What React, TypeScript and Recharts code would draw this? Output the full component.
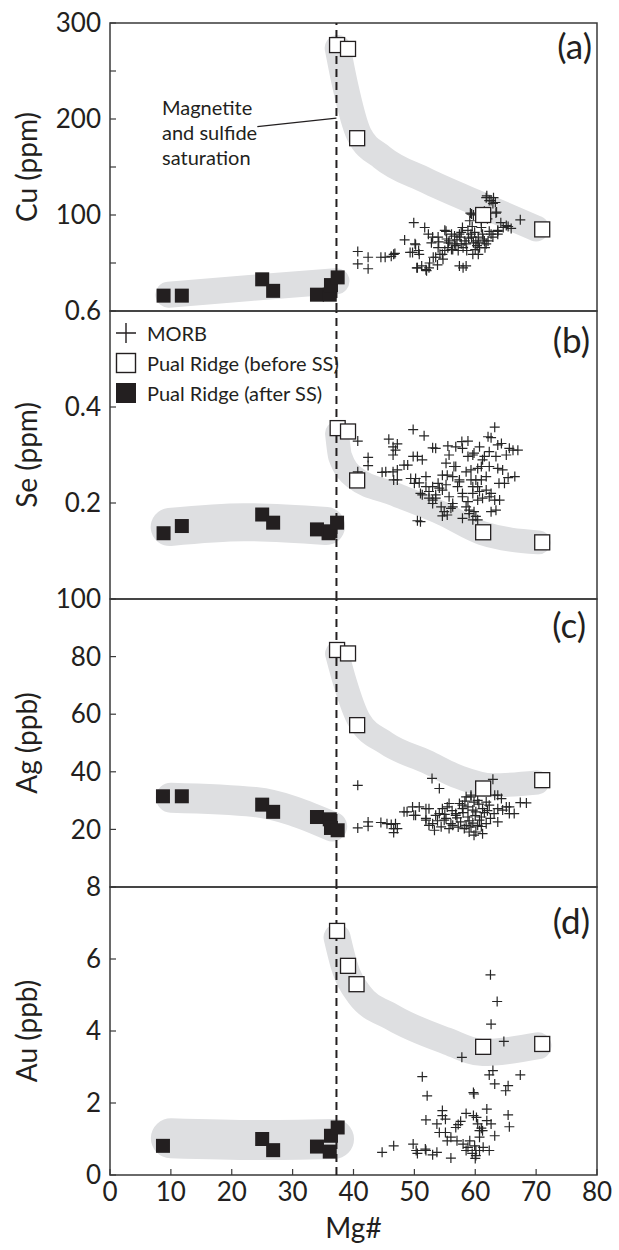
import { ComposedChart, Line, Scatter, XAxis, YAxis, ReferenceLine, ReferenceArea } from 'recharts';

type Pt = { x: number; y: number };

const INK = '#231f20';
const FRAME = '#3a3a3a';
const BAND = '#dedfe1';
const FONT = 'Lato, "Open Sans", sans-serif';

const PLOT_H = 288;
const MG_TICKS = [0, 10, 20, 30, 40, 50, 60, 70, 80];
const SATURATION_MG = 37.2;

const pts = (a: number[][]): Pt[] => a.map(([x, y]) => ({ x, y }));

// (a) Cu
const CU_BEFORE = pts([[37.3, 277], [39.1, 273], [40.6, 180], [61.3, 100], [71.0, 85]]);
const CU_AFTER = pts([[8.8, 16], [11.8, 16], [25.0, 33], [26.8, 21], [34.0, 17], [36.1, 17], [36.3, 27], [37.4, 35]]);
const CU_BAND_BEFORE = pts([[37.4, 274], [38.6, 236], [40.9, 184], [44.7, 160], [51.9, 136], [61.2, 110], [70.0, 86]]);
const CU_BAND_AFTER = pts([[9.6, 17], [23, 24], [37.2, 31]]);
const CU_MORB = pts([
  [40.7, 62], [42.4, 56], [40.7, 49], [42.4, 44], [44.5, 56], [46.2, 57], [46.8, 60], [48.4, 74], [49.9, 92],
  [51.7, 87], [50.2, 69], [49.7, 61], [50.8, 59], [50.5, 45], [51.9, 43], [52.4, 45], [53.0, 77], [53.5, 56],
  [54.6, 59], [55.2, 83], [55.7, 73], [56.3, 64], [57.4, 80], [57.9, 87], [58.5, 70], [58.5, 47], [59.3, 80],
  [59.6, 59], [60.1, 73], [60.7, 66], [59.2, 102], [59.7, 100], [61.8, 118], [62.6, 115], [63.3, 113],
  [63.4, 102], [61.0, 94], [62.3, 83], [63.7, 83], [65.1, 89], [65.9, 86], [67.4, 95], [62.9, 77], [61.5, 73],
  [50.1, 70], [52.3, 80], [52.8, 71], [53.9, 77], [55.0, 84], [55.6, 71], [56.6, 78], [57.7, 82], [58.3, 73],
  [59.4, 77], [60.5, 71], [61.0, 87], [61.6, 66], [59.1, 94], [59.4, 101], [62.9, 112], [63.5, 103], [62.6, 80],
  [63.7, 84], [45.2, 56], [46.6, 59], [50.4, 45], [52.0, 42], [53.1, 56], [54.2, 59], [54.7, 54], [50.7, 63],
  [49.3, 61], [57.4, 47], [58.0, 45], [56.1, 64], [57.2, 63], [57.7, 70], [56.6, 70], [60.0, 64], [60.5, 59],
  [53.9, 66], [55.0, 63], [58.8, 84], [59.9, 82], [56.1, 80], [55.3, 75], [57.5, 77], [58.0, 66], [58.6, 63],
  [59.7, 71], [60.5, 77], [61.3, 75], [62.1, 73], [61.8, 70], [63.7, 80], [64.6, 87], [65.4, 88], [54.0, 72],
  [56.8, 68], [58.9, 76], [60.3, 68], [61.2, 80], [57.0, 74], [55.5, 66], [59.5, 88], [62.0, 96], [61.5, 104],
  [64.2, 92], [52.5, 50], [51.2, 47], [53.8, 48], [62.3, 115], [63.0, 118], [61.9, 120],
]);

// (b) Se
const SE_BEFORE = pts([[37.4, 0.356], [39.1, 0.349], [40.6, 0.247], [61.3, 0.139], [71.0, 0.118]]);
const SE_AFTER = pts([[8.8, 0.137], [11.8, 0.152], [25.0, 0.176], [26.8, 0.159], [34.0, 0.145], [35.9, 0.137], [36.2, 0.141], [37.3, 0.159]]);
const SE_BAND_BEFORE = pts([[37.3, 0.345], [37.8, 0.297], [40.3, 0.252], [46.4, 0.220], [54.6, 0.178], [61.2, 0.137], [70.4, 0.118]]);
const SE_BAND_AFTER = pts([[9.8, 0.150], [22, 0.160], [35.5, 0.152]]);
const SE_MORB = pts([
  [40.7, 0.329], [42.4, 0.295], [42.4, 0.278], [40.7, 0.265], [44.7, 0.264], [45.8, 0.333], [46.5, 0.317],
  [46.5, 0.300], [46.5, 0.265], [46.6, 0.248], [48.3, 0.279], [49.8, 0.353], [51.6, 0.340], [49.8, 0.297],
  [53.0, 0.315], [55.5, 0.319], [57.8, 0.328], [62.1, 0.338], [63.2, 0.358], [63.7, 0.321], [65.1, 0.300],
  [66.2, 0.310], [65.4, 0.253], [63.9, 0.241], [63.2, 0.206], [62.6, 0.182], [50.5, 0.163], [54.6, 0.173],
  [57.9, 0.168], [59.6, 0.165], [49.4, 0.251], [50.8, 0.242], [51.9, 0.234], [51.3, 0.217], [52.4, 0.224],
  [53.5, 0.210], [54.1, 0.231], [54.6, 0.258], [55.2, 0.238], [55.7, 0.213], [56.3, 0.199], [56.8, 0.276],
  [57.4, 0.244], [57.9, 0.220], [58.5, 0.192], [58.8, 0.297], [59.3, 0.269], [59.6, 0.234], [60.1, 0.248],
  [60.4, 0.206], [60.7, 0.224], [61.0, 0.276], [61.5, 0.297], [61.8, 0.255], [62.3, 0.307], [62.6, 0.220],
  [59.0, 0.178], [59.8, 0.182], [53.0, 0.199], [54.4, 0.192], [56.0, 0.189], [51.9, 0.255], [55.2, 0.283],
  [57.9, 0.314], [59.8, 0.304], [60.7, 0.317], [47.2, 0.323], [46.9, 0.310], [50.5, 0.297], [51.3, 0.290],
  [53.5, 0.314], [56.8, 0.317], [58.8, 0.329], [62.6, 0.336], [64.3, 0.324], [65.6, 0.314], [67.0, 0.310],
  [63.4, 0.297], [59.6, 0.300], [61.2, 0.290], [55.7, 0.300], [56.5, 0.276], [58.5, 0.265], [60.4, 0.272],
  [62.3, 0.276], [63.7, 0.272], [64.5, 0.269], [66.5, 0.255], [64.8, 0.241], [45.3, 0.265], [47.2, 0.269],
  [47.2, 0.248], [48.9, 0.279], [50.2, 0.251], [50.0, 0.241], [53.0, 0.234], [51.0, 0.220], [52.4, 0.210],
  [53.5, 0.217], [54.6, 0.227], [55.4, 0.258], [56.3, 0.255], [57.1, 0.234], [57.9, 0.213], [58.8, 0.203],
  [59.6, 0.220], [60.4, 0.234], [61.0, 0.248], [61.8, 0.227], [62.3, 0.213], [64.0, 0.206], [63.4, 0.185],
  [54.9, 0.182], [56.3, 0.192], [59.0, 0.185], [60.1, 0.172], [60.4, 0.165], [51.0, 0.161], [55.4, 0.175],
  [53.0, 0.206], [53.9, 0.241], [57.4, 0.248], [59.3, 0.248], [61.2, 0.210],
]);

// (c) Ag
const AG_BEFORE = pts([[37.3, 82.3], [39.1, 81.1], [40.6, 56.2], [61.3, 34.2], [71.0, 37.1]]);
const AG_AFTER = pts([[8.7, 31.5], [11.8, 31.5], [25.0, 28.6], [26.8, 26.1], [34.0, 24.3], [36.1, 23.5], [36.3, 20.5], [37.4, 19.7]]);
const AG_BAND_BEFORE = pts([[37.3, 81], [38.6, 71], [40.9, 58], [45.3, 50], [52, 43.5], [57.4, 38.1], [62.9, 35.3], [70.2, 36.3]]);
const AG_BAND_AFTER = pts([[10, 31], [23.8, 29.5], [36.5, 21]]);
const AG_MORB = pts([
  [40.7, 35.3], [40.7, 20.5], [42.4, 22.6], [42.4, 21.1], [44.5, 22.4], [46.2, 21.7], [46.6, 20.3], [46.6, 18.9],
  [48.3, 26.1], [49.7, 27.8], [49.9, 24.9], [51.9, 27.2], [51.9, 23.8], [52.4, 21.4], [52.9, 37.7], [54.1, 34.2],
  [53.5, 24.9], [54.6, 27.2], [55.2, 23.8], [56.0, 22.0], [56.8, 24.9], [57.4, 29.0], [57.9, 27.2], [58.5, 21.4],
  [59.0, 19.1], [59.3, 31.9], [59.8, 29.5], [60.1, 26.1], [60.4, 21.4], [61.0, 24.3], [61.8, 29.5], [62.9, 37.4],
  [63.2, 31.9], [63.7, 27.2], [64.3, 30.7], [65.1, 27.8], [65.6, 25.5], [67.4, 29.3], [58.2, 20.3], [59.8, 18.0],
  [55.7, 20.3], [54.4, 20.9], [48.8, 26.1], [46.9, 22.0], [47.2, 20.3], [45.5, 22.0], [50.2, 24.9], [50.8, 27.8],
  [51.9, 23.2], [53.0, 22.0], [53.3, 19.7], [52.4, 27.2], [54.1, 25.5], [54.9, 23.2], [55.4, 27.8], [56.3, 21.4],
  [56.8, 25.5], [57.6, 22.6], [57.9, 28.4], [58.5, 31.3], [58.8, 24.3], [59.3, 20.9], [59.6, 26.7], [60.1, 19.1],
  [60.4, 30.1], [60.7, 23.2], [61.2, 27.2], [61.2, 18.5], [61.8, 22.0], [62.3, 28.4], [63.1, 25.5], [63.7, 22.6],
  [63.7, 31.9], [64.5, 26.7], [65.6, 27.8], [66.4, 25.5], [68.4, 29.2], [59.3, 31.3], [55.7, 29.0], [57.0, 24.0],
  [58.0, 25.8], [59.0, 23.0], [60.0, 24.8], [61.5, 25.8], [62.5, 23.8], [56.2, 26.5], [53.8, 23.0], [58.8, 27.8],
  [60.6, 28.8], [62.0, 26.5], [57.2, 20.8], [55.0, 25.2], [59.6, 22.2], [61.0, 21.0], [58.3, 29.8],
]);

// (d) Au
const AU_BEFORE = pts([[37.3, 6.78], [39.1, 5.81], [40.5, 5.30], [61.3, 3.56], [71.0, 3.64]]);
const AU_AFTER = pts([[8.7, 0.81], [25.0, 1.00], [26.8, 0.69], [34.0, 0.79], [36.1, 0.65], [36.3, 1.09], [37.4, 1.32]]);
const AU_BAND_BEFORE = pts([[37.3, 6.6], [38.4, 5.86], [40.9, 5.02], [46.4, 4.38], [55.2, 3.73], [61.2, 3.40], [70.3, 3.59]]);
const AU_BAND_AFTER = pts([[10, 1.02], [24, 0.97], [36.8, 1.0]]);
const AU_MORB = pts([
  [62.5, 5.56], [63.6, 4.82], [62.6, 4.19], [64.7, 3.71], [57.8, 3.27], [51.3, 2.73], [52.1, 2.20], [59.7, 2.29],
  [62.3, 2.78], [62.9, 2.90], [63.2, 2.53], [65.4, 2.48], [65.0, 2.34], [67.4, 2.78], [61.9, 1.83], [54.6, 1.79],
  [54.6, 1.65], [51.9, 1.53], [53.7, 1.42], [55.1, 1.55], [58.5, 1.71], [57.6, 1.49], [56.8, 1.32], [59.7, 1.65],
  [60.4, 1.42], [60.7, 1.23], [61.9, 1.51], [62.6, 1.42], [63.2, 1.09], [65.4, 1.67], [65.6, 1.34], [55.1, 1.18],
  [55.4, 0.95], [56.0, 1.05], [57.0, 0.95], [58.0, 0.86], [58.8, 0.77], [59.9, 0.81], [60.1, 0.68], [60.1, 0.54],
  [60.0, 0.46], [60.7, 0.68], [61.3, 0.77], [62.3, 0.68], [59.1, 0.95], [58.5, 0.68], [44.7, 0.63], [46.6, 0.81],
  [49.8, 0.86], [50.3, 0.68], [50.5, 0.60], [51.8, 0.72], [53.0, 0.56], [53.7, 0.63], [56.0, 0.47], [51.9, 0.68],
  [54.1, 1.18], [59.8, 2.25], [60.7, 1.05], [61.2, 1.23], [60.2, 1.60], [57.2, 1.40], [61.0, 1.30], [59.5, 0.60],
]);

const TICK_STYLE = { fontSize: 26, fill: INK, fontFamily: FONT };

const Cross = (props: any) => {
  const { cx, cy } = props;
  return <path d={`M${cx - 5},${cy}H${cx + 5}M${cx},${cy - 5}V${cy + 5}`} stroke="#262626" strokeWidth={1.2} fill="none" />;
};
const OpenSquare = (props: any) => {
  const { cx, cy } = props;
  return <rect x={cx - 7.5} y={cy - 7.5} width={15} height={15} fill="#fff" stroke={INK} strokeWidth={1.3} />;
};
const FilledSquare = (props: any) => {
  const { cx, cy } = props;
  return <rect x={cx - 7} y={cy - 7} width={14} height={14} fill={INK} />;
};

interface PanelProps {
  top: number;
  title: string;
  domain: [number, number];
  ticks: number[];
  fmt: (v: number) => string;
  morb: Pt[];
  before: Pt[];
  after: Pt[];
  bandBefore: Pt[];
  bandAfter: Pt[];
  bandWidths: [number, number];
  last?: boolean;
  note?: boolean;
}

function Panel(p: PanelProps) {
  const mTop = 30;
  const mBottom = p.last ? 74 : 30;
  const yTitle = ({ viewBox }: any) => {
    const cx = viewBox.x + 26;
    const cy = viewBox.y + viewBox.height / 2;
    return (
      <text x={cx} y={cy} transform={`rotate(-90 ${cx} ${cy})`} textAnchor="middle" dominantBaseline="central"
        fontSize={28} fill={INK} fontFamily={FONT}>{p.title}</text>
    );
  };
  return (
    <div style={{ position: 'absolute', left: 0, top: p.top - mTop }}>
      <ComposedChart width={619} height={mTop + PLOT_H + mBottom}
        margin={{ top: mTop, right: 22, bottom: p.last ? 0 : mBottom, left: 0 }}>
        <XAxis type="number" dataKey="x" domain={[0, 80]} ticks={MG_TICKS} interval={0} allowDataOverflow
          axisLine={false} tickSize={-6} tickMargin={14} tickLine={{ stroke: FRAME, strokeWidth: 1.2 }}
          tick={p.last ? TICK_STYLE : false} height={p.last ? 74 : 0}
          label={p.last ? { value: 'Mg#', position: 'insideBottom', offset: 11, fontSize: 28, fill: INK, fontFamily: FONT } : undefined} />
        <YAxis type="number" dataKey="y" width={110} domain={p.domain} ticks={p.ticks} interval={0} allowDataOverflow
          axisLine={false} tickSize={-6} tickMargin={15} tickLine={{ stroke: FRAME, strokeWidth: 1.2 }}
          tick={TICK_STYLE} tickFormatter={p.fmt} label={yTitle} />
        <Line data={p.bandAfter} dataKey="y" type="monotone" stroke={BAND} strokeWidth={p.bandWidths[1]}
          strokeLinecap="round" strokeLinejoin="round" dot={false} activeDot={false} isAnimationActive={false} />
        <Line data={p.bandBefore} dataKey="y" type="monotone" stroke={BAND} strokeWidth={p.bandWidths[0]}
          strokeLinecap="round" strokeLinejoin="round" dot={false} activeDot={false} isAnimationActive={false} />
        <ReferenceArea x1={0} x2={80} y1={p.domain[0]} y2={p.domain[1]} fill="none" stroke={FRAME} strokeWidth={1.5} ifOverflow="visible" />
        <Scatter data={p.morb} dataKey="y" shape={Cross} isAnimationActive={false} />
        <Scatter data={p.after} dataKey="y" shape={FilledSquare} isAnimationActive={false} />
        <Scatter data={p.before} dataKey="y" shape={OpenSquare} isAnimationActive={false} />
        <ReferenceLine x={SATURATION_MG} stroke={INK} strokeWidth={2} strokeDasharray="8 5" />
        {p.note && (
          <ReferenceLine segment={[{ x: 24.2, y: 192 }, { x: SATURATION_MG, y: 201 }]} stroke={INK} strokeWidth={1.3} />
        )}
      </ComposedChart>
    </div>
  );
}

const tagStyle = (top: number, right: number): React.CSSProperties => ({
  position: 'absolute', left: 0, width: right, top, textAlign: 'right',
  fontSize: 35, lineHeight: '35px', fontFamily: FONT, color: INK,
});

function LegendRow({ top, icon, text }: { top: number; icon: 'cross' | 'open' | 'filled'; text: string }) {
  return (
    <div style={{ position: 'absolute', left: 115, top: top - 11, height: 22, display: 'flex', alignItems: 'center', gap: 10 }}>
      <svg width={22} height={22}>
        {icon === 'cross' && <path d="M1,11H21M11,1V21" stroke={INK} strokeWidth={1.4} />}
        {icon === 'open' && <rect x={1.5} y={1.5} width={19} height={19} fill="#fff" stroke={INK} strokeWidth={1.4} />}
        {icon === 'filled' && <rect x={1} y={1} width={20} height={20} fill={INK} />}
      </svg>
      <span style={{ fontSize: 20, fontFamily: FONT, color: INK, whiteSpace: 'nowrap' }}>{text}</span>
    </div>
  );
}

export default function App() {
  return (
    <div style={{ position: 'absolute', left: 0, top: 0, width: 619, height: 1250, background: '#fff', overflow: 'hidden' }}>
      <Panel top={23} title="Cu (ppm)" domain={[0, 300]} ticks={[0, 50, 100, 150, 200, 250, 300]}
        fmt={(v) => (v > 0 && v % 100 === 0 ? String(v) : '')}
        morb={CU_MORB} before={CU_BEFORE} after={CU_AFTER} bandBefore={CU_BAND_BEFORE} bandAfter={CU_BAND_AFTER}
        bandWidths={[26, 26]} note />
      <Panel top={311} title="Se (ppm)" domain={[0, 0.6]} ticks={[0, 0.2, 0.4, 0.6]}
        fmt={(v) => (v > 0 ? v.toFixed(1) : '')}
        morb={SE_MORB} before={SE_BEFORE} after={SE_AFTER} bandBefore={SE_BAND_BEFORE} bandAfter={SE_BAND_AFTER}
        bandWidths={[24, 38]} />
      <Panel top={599} title="Ag (ppb)" domain={[0, 100]} ticks={[0, 20, 40, 60, 80, 100]}
        fmt={(v) => (v > 0 ? String(v) : '')}
        morb={AG_MORB} before={AG_BEFORE} after={AG_AFTER} bandBefore={AG_BAND_BEFORE} bandAfter={AG_BAND_AFTER}
        bandWidths={[24, 30]} />
      <Panel top={887} title="Au (ppb)" domain={[0, 8]} ticks={[0, 2, 4, 6, 8]}
        fmt={(v) => String(v)}
        morb={AU_MORB} before={AU_BEFORE} after={AU_AFTER} bandBefore={AU_BAND_BEFORE} bandAfter={AU_BAND_AFTER}
        bandWidths={[27, 40]} last />

      <div style={{ position: 'absolute', left: 162, top: 95, fontSize: 20, lineHeight: '25px', fontFamily: FONT, color: INK }}>
        Magnetite<br />and sulfide<br />saturation
      </div>

      <div style={tagStyle(28, 592)}>(a)</div>
      <div style={tagStyle(322, 590)}>(b)</div>
      <div style={tagStyle(607, 586)}>(c)</div>
      <div style={tagStyle(903, 590)}>(d)</div>

      <LegendRow top={333} icon="cross" text="MORB" />
      <LegendRow top={363} icon="open" text="Pual Ridge (before SS)" />
      <LegendRow top={393} icon="filled" text="Pual Ridge (after SS)" />
    </div>
  );
}
